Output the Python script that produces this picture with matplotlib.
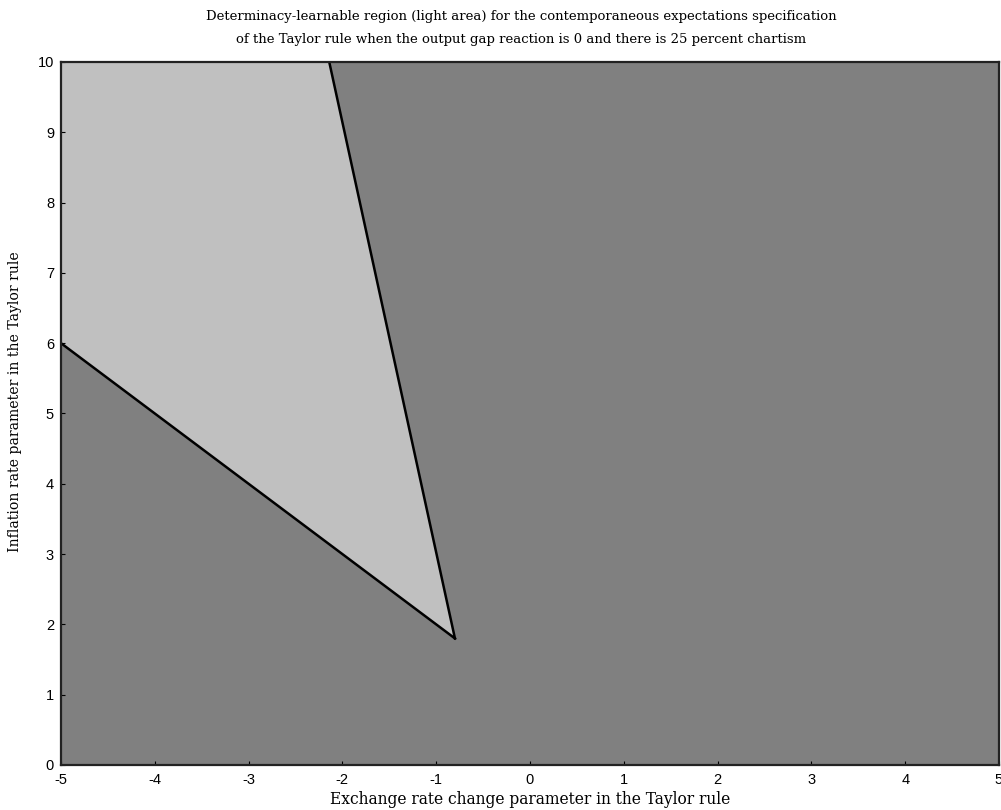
import matplotlib
matplotlib.use("Agg")
import matplotlib.pyplot as plt
from matplotlib.patches import Polygon

# Region boundary (light area): vertices
lower_boundary_x = [-5.0, -0.8]
lower_boundary_y = [6.0, 1.8]
upper_boundary_x = [-0.8, -2.14]
upper_boundary_y = [1.8, 10.0]
corner_x = [-5.0]
corner_y = [10.0]

x_ticks = [-5, -4, -3, -2, -1, 0, 1, 2, 3, 4, 5]
y_ticks = [0, 1, 2, 3, 4, 5, 6, 7, 8, 9, 10]

title = ("Determinacy-learnable region (light area) for the contemporaneous expectations specification\n"
         "of the Taylor rule when the output gap reaction is 0 and there is 25 percent chartism")
xlabel = "Exchange rate change parameter in the Taylor rule"
ylabel = "Inflation rate parameter in the Taylor rule"

serif = ["DejaVu Serif"]
sans = ["Liberation Sans", "DejaVu Sans"]

fig = plt.figure(figsize=(10.01, 8.10), dpi=100)
ax = fig.add_axes([0.0609, 0.0556, 0.9371, 0.8679])
ax.set_xlim(-5, 5)
ax.set_ylim(0, 10)
ax.set_facecolor("#808080")

poly_x = lower_boundary_x + upper_boundary_x + corner_x
poly_y = lower_boundary_y + upper_boundary_y + corner_y
ax.add_patch(Polygon(list(zip(poly_x, poly_y)), closed=True, facecolor="#c0c0c0",
                     edgecolor="none", zorder=1))
ax.plot(lower_boundary_x, lower_boundary_y, color="black", lw=1.8, zorder=2)
ax.plot(upper_boundary_x, upper_boundary_y, color="black", lw=1.8, zorder=2)

ax.set_xticks(x_ticks)
ax.set_yticks(y_ticks)
ax.set_xticklabels([str(t) for t in x_ticks], fontfamily=sans, fontsize=10.5)
ax.set_yticklabels([str(t) for t in y_ticks], fontfamily=sans, fontsize=10.5)
ax.tick_params(direction="in", length=3, width=0.8)
ax.tick_params(axis="x", pad=6)
ax.tick_params(axis="y", pad=5)
for s in ax.spines.values():
    s.set_linewidth(1.6)
    s.set_color("#222222")

fig.text(0.521, 0.9875, title, ha="center", va="top", fontfamily=serif, fontsize=9.5,
         linespacing=1.95)
fig.text(0.530, 0.0125, xlabel, ha="center", va="center", fontfamily=serif, fontsize=11.2)
fig.text(0.015, 0.504, ylabel, ha="center", va="center", rotation=90, fontfamily=serif,
         fontsize=10.1)

fig.savefig("out.png", dpi=100)
